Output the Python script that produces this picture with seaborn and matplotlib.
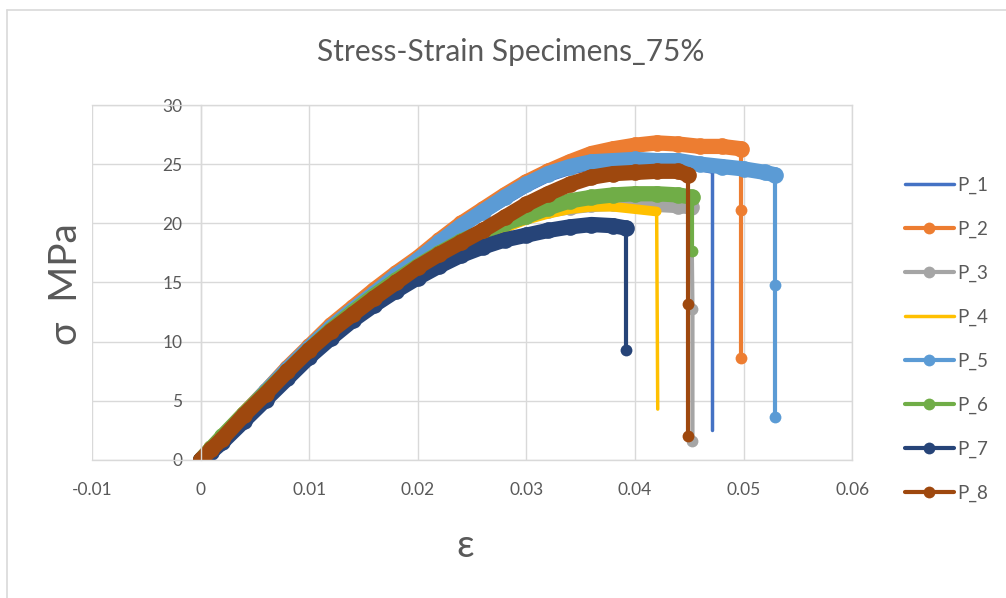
import matplotlib
matplotlib.use("Agg")
import matplotlib.pyplot as plt
from matplotlib.lines import Line2D
import seaborn as sns

# stress-strain data (strain [-], stress [MPa])
p1_strain = [0, 0.001, 0.002, 0.004, 0.006, 0.008, 0.010, 0.012, 0.014, 0.016, 0.018, 0.020, 0.022,
             0.024, 0.026, 0.028, 0.030, 0.032, 0.034, 0.036, 0.038, 0.040, 0.042, 0.044, 0.046, 0.0471]
p1_stress = [0, 0.8, 1.7, 3.6, 5.5, 7.4, 9.3, 11.0, 12.5, 14.0, 15.4, 16.7, 18.2,
             19.6, 20.8, 21.9, 23.0, 23.9, 24.5, 24.9, 25.0, 25.1, 25.0, 25.0, 24.8, 24.6]
p1_break = 0.0471
p1_drop = [2.5]

p2_strain = [0, 0.001, 0.002, 0.004, 0.006, 0.008, 0.010, 0.012, 0.014, 0.016, 0.018, 0.020, 0.022,
             0.024, 0.026, 0.028, 0.030, 0.032, 0.034, 0.036, 0.038, 0.040, 0.042, 0.044, 0.046, 0.048, 0.0498]
p2_stress = [0, 1.0, 1.9, 3.9, 5.8, 7.8, 9.6, 11.4, 12.9, 14.4, 15.8, 17.1, 18.6,
             20.0, 21.2, 22.4, 23.5, 24.4, 25.2, 25.9, 26.3, 26.6, 26.8, 26.7, 26.5, 26.5, 26.3]
p2_break = 0.0498
p2_drop = [21.1, 8.6]

p3_strain = [0, 0.001, 0.002, 0.004, 0.006, 0.008, 0.010, 0.012, 0.014, 0.016, 0.018, 0.020, 0.022,
             0.024, 0.026, 0.028, 0.030, 0.032, 0.034, 0.036, 0.038, 0.040, 0.042, 0.044, 0.0452]
p3_stress = [0, 0.8, 1.7, 3.6, 5.5, 7.3, 9.1, 10.8, 12.3, 13.7, 15.0, 16.2, 17.3,
             18.2, 19.1, 19.9, 20.6, 21.1, 21.4, 21.6, 21.7, 21.7, 21.6, 21.5, 21.4]
p3_break = 0.0453
p3_drop = [12.8, 1.6]

p4_strain = [0, 0.001, 0.002, 0.004, 0.006, 0.008, 0.010, 0.012, 0.014, 0.016, 0.018, 0.020, 0.022,
             0.024, 0.026, 0.028, 0.030, 0.032, 0.034, 0.036, 0.038, 0.040, 0.042]
p4_stress = [0, 0.8, 1.7, 3.6, 5.5, 7.3, 9.1, 10.8, 12.3, 13.7, 15.0, 16.1, 17.2,
             18.1, 18.9, 19.6, 20.3, 20.8, 21.2, 21.4, 21.4, 21.2, 21.0]
p4_break = 0.0421
p4_drop = [4.3]

p5_strain = [0, 0.001, 0.002, 0.004, 0.006, 0.008, 0.010, 0.012, 0.014, 0.016, 0.018, 0.020, 0.022,
             0.024, 0.026, 0.028, 0.030, 0.032, 0.034, 0.036, 0.038, 0.040, 0.042, 0.044, 0.046,
             0.048, 0.050, 0.052, 0.0529]
p5_stress = [0, 0.9, 1.9, 3.8, 5.8, 7.7, 9.5, 11.2, 12.7, 14.1, 15.6, 16.9, 18.4,
             19.8, 21.0, 22.2, 23.3, 24.2, 24.8, 25.2, 25.3, 25.4, 25.3, 25.3, 25.0,
             24.8, 24.6, 24.3, 24.1]
p5_break = 0.0529
p5_drop = [14.8, 3.6]

p6_strain = [0, 0.001, 0.002, 0.004, 0.006, 0.008, 0.010, 0.012, 0.014, 0.016, 0.018, 0.020, 0.022,
             0.024, 0.026, 0.028, 0.030, 0.032, 0.034, 0.036, 0.038, 0.040, 0.042, 0.044, 0.0453]
p6_stress = [0, 1.0, 2.0, 3.9, 5.7, 7.5, 9.3, 11.0, 12.5, 13.9, 15.2, 16.4, 17.5,
             18.5, 19.3, 20.0, 20.6, 21.3, 21.9, 22.2, 22.4, 22.5, 22.5, 22.4, 22.2]
p6_break = 0.0453
p6_drop = [17.7]

p7_strain = [0, 0.001, 0.002, 0.004, 0.006, 0.008, 0.010, 0.012, 0.014, 0.016, 0.018, 0.020, 0.022,
             0.024, 0.026, 0.028, 0.030, 0.032, 0.034, 0.036, 0.038, 0.0392]
p7_stress = [0, 0.7, 1.5, 3.3, 5.1, 6.9, 8.7, 10.3, 11.8, 13.1, 14.3, 15.4, 16.4,
             17.3, 18.0, 18.6, 19.0, 19.4, 19.7, 19.9, 19.8, 19.6]
p7_break = 0.0392
p7_drop = [9.3]

p8_strain = [0, 0.001, 0.002, 0.004, 0.006, 0.008, 0.010, 0.012, 0.014, 0.016, 0.018, 0.020, 0.022,
             0.024, 0.026, 0.028, 0.030, 0.032, 0.034, 0.036, 0.038, 0.040, 0.042, 0.044, 0.0449]
p8_stress = [0, 0.9, 1.8, 3.8, 5.6, 7.5, 9.3, 10.9, 12.3, 13.7, 15.0, 16.3, 17.4,
             18.4, 19.4, 20.5, 21.6, 22.5, 23.3, 23.9, 24.2, 24.3, 24.4, 24.4, 24.1]
p8_break = 0.0449
p8_drop = [13.2, 2.0]

names = ["P_1", "P_2", "P_3", "P_4", "P_5", "P_6", "P_7", "P_8"]
colors = ["#4472C4", "#ED7D31", "#A5A5A5", "#FFC000", "#5B9BD5", "#70AD47", "#264478", "#9E480E"]
with_markers = [False, True, True, False, True, True, True, True]

specimens = [
    (p1_strain, p1_stress, p1_break, p1_drop),
    (p2_strain, p2_stress, p2_break, p2_drop),
    (p3_strain, p3_stress, p3_break, p3_drop),
    (p4_strain, p4_stress, p4_break, p4_drop),
    (p5_strain, p5_stress, p5_break, p5_drop),
    (p6_strain, p6_stress, p6_break, p6_drop),
    (p7_strain, p7_stress, p7_break, p7_drop),
    (p8_strain, p8_stress, p8_break, p8_drop),
]

sns.set_style("white")
plt.rcParams['font.family'] = ['Lato', 'DejaVu Sans']
txt = '#595959'
grid_c = '#D9D9D9'

fig = plt.figure(figsize=(10.06, 5.98), dpi=100)
ax = fig.add_axes([0.0915, 0.2308, 0.7555, 0.5936])

for name, color, mk, (strain, stress, brk, drop) in zip(names, colors, with_markers, specimens):
    band = dict(linewidth=11 if mk else 7, solid_joinstyle='round', solid_capstyle='round')
    drop_kw = dict(linewidth=3 if mk else 2.5)
    if mk:
        band.update(marker='o', markersize=12, markeredgewidth=0)
        drop_kw.update(marker='o', markersize=8.5, markeredgewidth=0)
    sns.lineplot(x=strain, y=stress, ax=ax, color=color, sort=False,
                 estimator=None, legend=False, **band)
    sns.lineplot(x=[strain[-1]] + [brk] * len(drop), y=[stress[-1]] + drop, ax=ax,
                 color=color, sort=False, estimator=None, label=name, **drop_kw)

ax.set_xlim(-0.01, 0.06)
ax.set_ylim(0, 30)
ax.set_xticks([-0.01, 0, 0.01, 0.02, 0.03, 0.04, 0.05, 0.06])
ax.set_xticklabels(['-0.01', '0', '0.01', '0.02', '0.03', '0.04', '0.05', '0.06'])
ax.set_yticks([0, 5, 10, 15, 20, 25, 30])
ax.grid(True, color=grid_c, linewidth=1)
ax.set_axisbelow(True)
for s in ax.spines.values():
    s.set_color(grid_c)
    s.set_linewidth(1)
ax.spines['left'].set_position(('data', 0))
ax.tick_params(axis='both', length=0, labelsize=12.5, labelcolor=txt)
ax.tick_params(axis='y', pad=13)
ax.tick_params(axis='x', pad=16)
ax.set_xlabel('')
ax.set_ylabel('')

handles, labels = ax.get_legend_handles_labels()
ax.get_legend().remove()
fig.legend(handles, labels, loc='upper left', bbox_to_anchor=(905 / 1006, 1 - 177 / 598),
           frameon=False, fontsize=13.5, labelcolor=txt, handlelength=2.6,
           handletextpad=0.2, labelspacing=1.42, borderpad=0, borderaxespad=0)

fig.text(511 / 1006, 1 - 52 / 598, 'Stress-Strain Specimens_75%', ha='center', va='center',
         fontsize=21.5, color=txt)
fig.text(66 / 1006, 1 - 284 / 598, 'σ  MPa', ha='center', va='center', rotation=90,
         fontsize=28, color=txt)
fig.text(465 / 1006, 1 - 546 / 598, 'ε', ha='center', va='center', fontsize=28, color=txt)

# chart area border (left and top edges visible in the reference)
fig.add_artist(Line2D([7 / 1006, 7 / 1006], [0, 1 - 10 / 598], color=grid_c, linewidth=1.2))
fig.add_artist(Line2D([7 / 1006, 1], [1 - 10 / 598, 1 - 10 / 598], color=grid_c, linewidth=1.2))

fig.savefig('out.png', dpi=100)
